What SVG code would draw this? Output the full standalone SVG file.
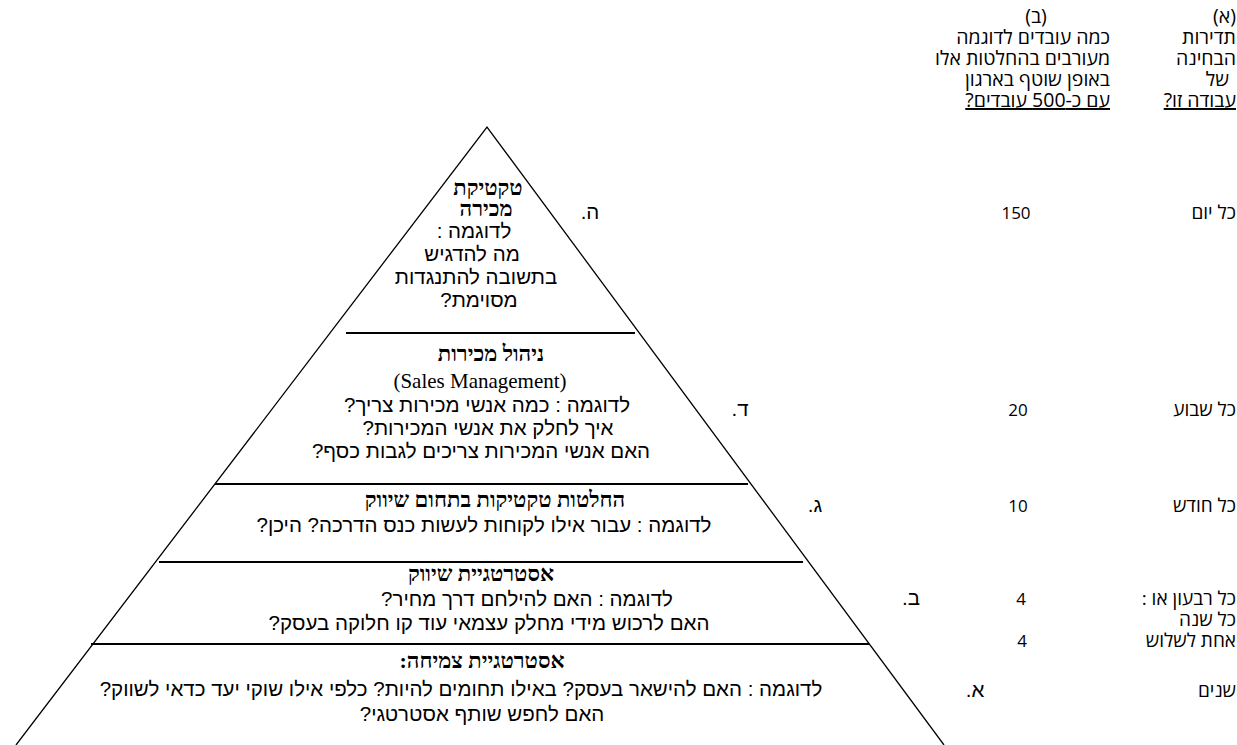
<svg xmlns="http://www.w3.org/2000/svg" width="1237" height="745" viewBox="0 0 1237 745">
<style>
.b{font-family:"Liberation Sans","DejaVu Sans",sans-serif;font-size:20.5px;fill:#000;direction:rtl;unicode-bidi:embed}
.h{font-family:"Liberation Serif","DejaVu Serif",serif;font-size:22px;font-weight:bold;fill:#000;direction:rtl;unicode-bidi:embed}
.en{font-family:"Liberation Serif",serif;font-size:21px;fill:#000}
.c{font-family:"Open Sans","DejaVu Sans",sans-serif;font-size:19px;fill:#000;direction:rtl;unicode-bidi:embed}
.hd{font-size:19.5px}
.n{font-family:"Open Sans","DejaVu Sans",sans-serif;font-size:17px;fill:#000}
.m{text-anchor:middle}
.r{text-anchor:start}
.u{text-decoration:underline}
.side{fill:none;stroke:#000;stroke-width:1.3}
.div{stroke:#000;stroke-width:2}
</style>
<g id="connectors">
<polyline class="side" points="16,745 487,127 944,745"/>
<line class="div" x1="346" y1="333" x2="635" y2="333"/>
<line class="div" x1="215" y1="484" x2="748" y2="484"/>
<line class="div" x1="159" y1="562" x2="803" y2="562"/>
<line class="div" x1="91" y1="644" x2="869" y2="644"/>
</g>
<g id="header-a">
<text class="c hd r" x="1236" y="23">(א)</text>
<text class="c hd r" x="1236" y="44">תדירות</text>
<text class="c hd r" x="1236" y="65">הבחינה</text>
<text class="c hd r" x="1229" y="86">של</text>
<text class="c hd r u" x="1236" y="107">עבודה זו?</text>
</g>
<g id="header-b">
<text class="c hd m" x="1036" y="23">(ב)</text>
<text class="c hd r" x="1110" y="44">כמה עובדים לדוגמה</text>
<text class="c hd r" x="1110" y="65">מעורבים בהחלטות אלו</text>
<text class="c hd r" x="1110" y="86">באופן שוטף בארגון</text>
<text class="c hd r u" x="1110" y="107">עם כ-500 עובדים?</text>
</g>
<g id="level-5">
<text class="h m" x="488" y="195">טקטיקת</text>
<text class="h m" x="486" y="216">מכירה</text>
<text class="b m" x="474" y="238">לדוגמה :</text>
<text class="b m" x="472" y="261">מה להדגיש</text>
<text class="b m" x="476" y="284">בתשובה להתנגדות</text>
<text class="b m" x="479" y="307">מסוימת?</text>
</g>
<g id="level-4">
<text class="h m" x="491" y="361">ניהול מכירות</text>
<text class="en m" x="480" y="388">(Sales Management)</text>
<text class="b m" x="487" y="412">לדוגמה : כמה אנשי מכירות צריך?</text>
<text class="b m" x="488" y="435">איך לחלק את אנשי המכירות?</text>
<text class="b m" x="481" y="458">האם אנשי המכירות צריכים לגבות כסף?</text>
</g>
<g id="level-3">
<text class="h m" x="495" y="507">החלטות טקטיקות בתחום שיווק</text>
<text class="b m" x="484" y="532">לדוגמה : עבור אילו לקוחות לעשות כנס הדרכה? היכן?</text>
</g>
<g id="level-2">
<text class="h m" x="481" y="581">אסטרטגיית שיווק</text>
<text class="b m" x="527" y="606">לדוגמה : האם להילחם דרך מחיר?</text>
<text class="b m" x="489" y="630">האם לרכוש מידי מחלק עצמאי עוד קו חלוקה בעסק?</text>
</g>
<g id="level-1">
<text class="h m" x="482" y="668">אסטרטגיית צמיחה:</text>
<text class="b m" x="461" y="696">לדוגמה : האם להישאר בעסק? באילו תחומים להיות? כלפי אילו שוקי יעד כדאי לשווק?</text>
<text class="b m" x="482" y="721">האם לחפש שותף אסטרטגי?</text>
</g>
<g id="markers">
<text class="b m" x="590" y="219">ה.</text>
<text class="b m" x="740" y="416">ד.</text>
<text class="b m" x="815" y="512">ג.</text>
<text class="b m" x="911" y="605">ב.</text>
<text class="b m" x="975" y="697">א.</text>
</g>
<g id="frequency">
<text class="n m" x="1016" y="219">150</text>
<text class="c r" x="1236" y="219">כל יום</text>
<text class="n m" x="1018" y="416">20</text>
<text class="c r" x="1236" y="416">כל שבוע</text>
<text class="n m" x="1018" y="512">10</text>
<text class="c r" x="1236" y="512">כל חודש</text>
<text class="n m" x="1021" y="605">4</text>
<text class="c r" x="1236" y="605">כל רבעון או :</text>
<text class="c r" x="1236" y="626">כל שנה</text>
<text class="n m" x="1022" y="647">4</text>
<text class="c r" x="1236" y="647">אחת לשלוש</text>
<text class="c r" x="1236" y="697">שנים</text>
</g>
</svg>
